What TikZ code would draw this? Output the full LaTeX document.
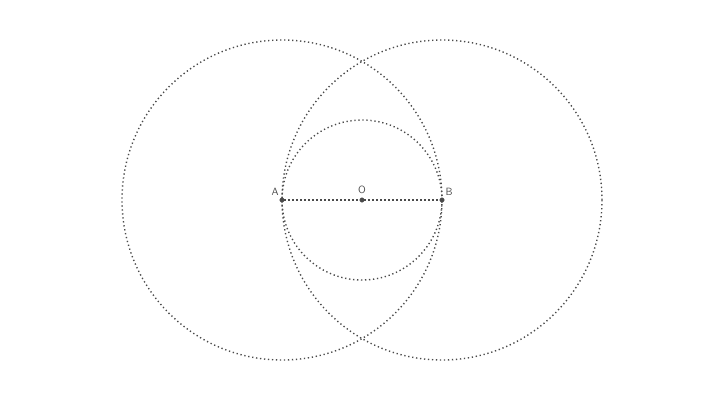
\documentclass[tikz,border=0pt]{standalone}
\usepackage{tikz}
\usetikzlibrary{backgrounds}
\definecolor{dotgray}{HTML}{4A4A4A}
\tikzstyle{point}=[circle,fill=dotgray,draw=dotgray,inner sep=0pt,minimum size=4.5pt]
\tikzstyle{label}=[inner sep=0pt,text=dotgray,font=\sffamily\fontsize{10.5}{12}\selectfont]
\tikzstyle{dotline}=[-,draw=dotgray,line width=1.4pt,dash pattern=on 1.3pt off 2.7pt]
\pgfdeclarelayer{edgelayer}
\pgfdeclarelayer{nodelayer}
\pgfsetlayers{edgelayer,nodelayer,main}
\begin{document}
\begin{tikzpicture}[x=1pt,y=1pt]
	\useasboundingbox (0,0) rectangle (725,400);
	\begin{pgfonlayer}{nodelayer}
		\node [style=point] (A) at (282, 200) {};
		\node [style=point] (O) at (362, 200) {};
		\node [style=point] (B) at (442, 200) {};

		\node [style=label] at (275, 208) {A};
		\node [style=label] at (362, 210) {O};
		\node [style=label] at (449, 208) {B};
	\end{pgfonlayer}
	\begin{pgfonlayer}{edgelayer}
		\draw [style=dotline] (A.center) circle (160);
		\draw [style=dotline] (B.center) circle (160);
		\draw [style=dotline] (O.center) circle (80);
		\draw [style=dotline] (A) to (O);
		\draw [style=dotline] (O) to (B);
	\end{pgfonlayer}
\end{tikzpicture}
\end{document}
